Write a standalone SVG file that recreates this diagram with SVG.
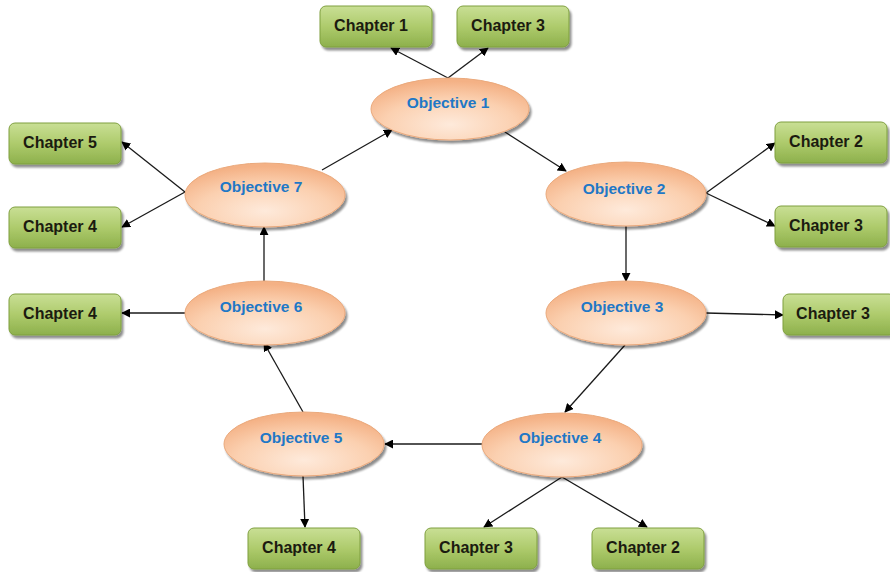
<svg xmlns="http://www.w3.org/2000/svg" width="890" height="572" viewBox="0 0 890 572">
  <defs>
    <linearGradient id="gChap" x1="0" y1="0" x2="0" y2="1">
      <stop offset="0" stop-color="#c9df95"/>
      <stop offset="0.5" stop-color="#aecb6c"/>
      <stop offset="1" stop-color="#8db04c"/>
    </linearGradient>
    <radialGradient id="gObj" cx="0.5" cy="0.75" r="0.7">
      <stop offset="0" stop-color="#feeadb"/>
      <stop offset="0.6" stop-color="#fbd0b0"/>
      <stop offset="1" stop-color="#f4b185"/>
    </radialGradient>
    <filter id="shadow" x="-10%" y="-10%" width="125%" height="135%">
      <feGaussianBlur in="SourceAlpha" stdDeviation="1.2"/>
      <feOffset dx="1.5" dy="2.5"/>
      <feComponentTransfer><feFuncA type="linear" slope="0.45"/></feComponentTransfer>
      <feMerge><feMergeNode/><feMergeNode in="SourceGraphic"/></feMerge>
    </filter>
    <marker id="arrow" viewBox="0 0 10 10" refX="9" refY="5" markerWidth="9" markerHeight="9" markerUnits="userSpaceOnUse" orient="auto">
      <path d="M0,0 L10,5 L0,10 z" fill="#000"/>
    </marker>
  </defs>
  <style>
    .chap rect { fill: url(#gChap); stroke: #7f9f3f; stroke-width: 1; filter: url(#shadow); }
    .chap text { font-family: "Liberation Sans", Arial, sans-serif; font-weight: bold; font-size: 16px; fill: #1b1b10; text-anchor: middle; }
    .obj ellipse { fill: url(#gObj); stroke: #eaa97c; stroke-width: 1; filter: url(#shadow); }
    .obj text { font-family: "Liberation Sans", Arial, sans-serif; font-weight: bold; font-size: 15.5px; fill: #1f78c6; text-anchor: middle; }
    #connectors line { stroke: #1a1a1a; stroke-width: 1.3; marker-end: url(#arrow); }
  </style>

  <rect width="890" height="572" fill="#ffffff"/>

  <!-- connectors -->
  <g id="connectors">
    <line x1="448" y1="78" x2="391" y2="48"/>
    <line x1="448" y1="78" x2="488" y2="48"/>
    <line x1="322" y1="170" x2="392" y2="130"/>
    <line x1="505" y1="132" x2="566" y2="171"/>
    <line x1="706" y1="193" x2="775" y2="143"/>
    <line x1="706" y1="193" x2="775" y2="226"/>
    <line x1="626" y1="226" x2="626" y2="281"/>
    <line x1="706" y1="313" x2="783" y2="315"/>
    <line x1="625" y1="345" x2="565" y2="412"/>
    <line x1="482" y1="444" x2="385" y2="444"/>
    <line x1="562" y1="477" x2="484" y2="527"/>
    <line x1="562" y1="477" x2="647" y2="527"/>
    <line x1="303" y1="476" x2="305" y2="527"/>
    <line x1="303" y1="412" x2="264" y2="343"/>
    <line x1="185" y1="313" x2="122" y2="313"/>
    <line x1="264" y1="281" x2="264" y2="227"/>
    <line x1="185" y1="192" x2="122" y2="142"/>
    <line x1="185" y1="192" x2="122" y2="227"/>
  </g>

  <!-- objectives -->
  <g id="obj1" class="obj"><ellipse cx="450" cy="109" rx="79" ry="31"/><text x="448" y="108">Objective 1</text></g>
  <g id="obj2" class="obj"><ellipse cx="626" cy="194" rx="80" ry="32"/><text x="624" y="194">Objective 2</text></g>
  <g id="obj3" class="obj"><ellipse cx="626" cy="313" rx="80" ry="32"/><text x="622" y="312">Objective 3</text></g>
  <g id="obj4" class="obj"><ellipse cx="562" cy="445" rx="80" ry="32"/><text x="560" y="443">Objective 4</text></g>
  <g id="obj5" class="obj"><ellipse cx="304" cy="444" rx="80" ry="32"/><text x="301" y="443">Objective 5</text></g>
  <g id="obj6" class="obj"><ellipse cx="265" cy="313" rx="80" ry="32"/><text x="261" y="312">Objective 6</text></g>
  <g id="obj7" class="obj"><ellipse cx="265" cy="195" rx="80" ry="32"/><text x="261" y="192">Objective 7</text></g>

  <!-- chapters -->
  <g id="ch1-top" class="chap"><rect x="320" y="6" width="112" height="41" rx="6"/><text x="371" y="31">Chapter 1</text></g>
  <g id="ch3-top" class="chap"><rect x="457" y="6" width="112" height="41" rx="6"/><text x="508" y="31">Chapter 3</text></g>
  <g id="ch5-left" class="chap"><rect x="9" y="123" width="112" height="41" rx="6"/><text x="60" y="148">Chapter 5</text></g>
  <g id="ch4-left-a" class="chap"><rect x="9" y="207" width="112" height="41" rx="6"/><text x="60" y="232">Chapter 4</text></g>
  <g id="ch4-left-b" class="chap"><rect x="9" y="294" width="112" height="41" rx="6"/><text x="60" y="319">Chapter 4</text></g>
  <g id="ch2-right" class="chap"><rect x="775" y="122" width="112" height="41" rx="6"/><text x="826" y="147">Chapter 2</text></g>
  <g id="ch3-right-a" class="chap"><rect x="775" y="206" width="112" height="41" rx="6"/><text x="826" y="231">Chapter 3</text></g>
  <g id="ch3-right-b" class="chap"><rect x="783" y="294" width="112" height="41" rx="6"/><text x="833" y="319">Chapter 3</text></g>
  <g id="ch4-bottom" class="chap"><rect x="248" y="528" width="112" height="41" rx="6"/><text x="299" y="553">Chapter 4</text></g>
  <g id="ch3-bottom" class="chap"><rect x="425" y="528" width="112" height="41" rx="6"/><text x="476" y="553">Chapter 3</text></g>
  <g id="ch2-bottom" class="chap"><rect x="592" y="528" width="112" height="41" rx="6"/><text x="643" y="553">Chapter 2</text></g>
</svg>
